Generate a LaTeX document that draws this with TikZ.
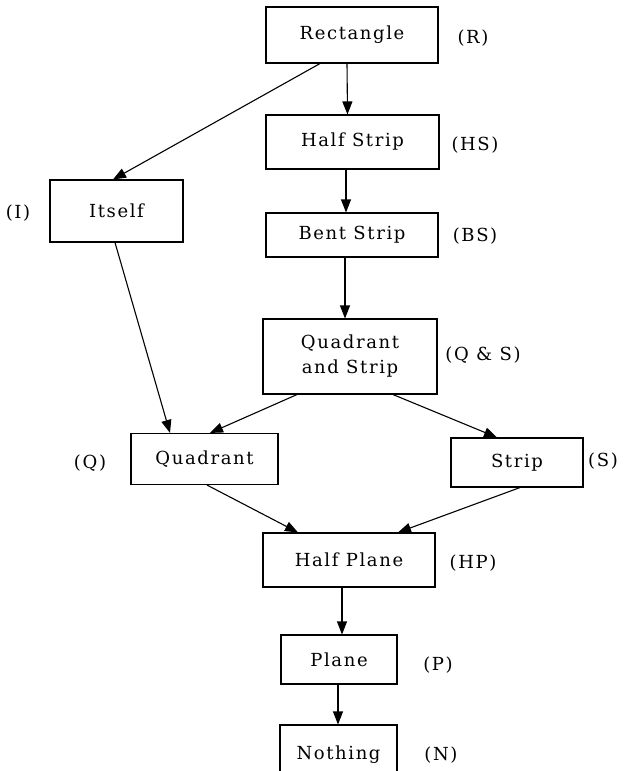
\documentclass[tikz,border=0pt]{standalone}
\usepackage{fontspec}
\setmainfont{DejaVu Serif}[LetterSpace=9]
\usetikzlibrary{arrows.meta}
\begin{document}
\begin{tikzpicture}[x=1pt,y=-1pt,
  box/.style={draw,line width=1.1pt,inner sep=0pt,align=center,font=\fontsize{18}{22}\selectfont},
  lbl/.style={inner sep=0pt,font=\fontsize{18}{22}\selectfont},
  conn/.style={line width=1.1pt,-{Triangle[length=13pt,width=10pt]}},
  plain/.style={line width=1.1pt}]
\clip (0,0) rectangle (629,771);
\fill[white] (0,0) rectangle (629,771);
% boxes
\node[box,minimum width=172pt,minimum height=56pt] (R) at (352,35) {Rectangle};
\node[box,minimum width=173pt,minimum height=54pt] (HS) at (352.5,142) {Half Strip};
\node[box,minimum width=172pt,minimum height=44pt] (BS) at (352,235) {Bent Strip};
\node[box,minimum width=174pt,minimum height=75pt,font=\fontsize{18}{25}\selectfont] (QS) at (350,356.5) {Quadrant\\and Strip};
\node[box,minimum width=133pt,minimum height=62pt] (I) at (116.5,211) {Itself};
\node[box,minimum width=147pt,minimum height=51pt] (Q) at (204.5,459) {Quadrant};
\node[box,minimum width=132pt,minimum height=49pt] (S) at (517,462.5) {Strip};
\node[box,minimum width=172pt,minimum height=54pt] (HP) at (349,560) {Half Plane};
\node[box,minimum width=116pt,minimum height=49pt] (P) at (339,659.5) {Plane};
\node[box,minimum width=117pt,minimum height=60pt] (N) at (338.5,755) {Nothing};
% labels
\node[lbl] (lR) at (473,38) {(R)};
\node[lbl] (lHS) at (475,145) {(HS)};
\node[lbl] (lBS) at (475,236) {(BS)};
\node[lbl] (lQS) at (483,355) {(Q \& S)};
\node[lbl] (lI) at (18,213) {(I)};
\node[lbl] (lQ) at (90,463) {(Q)};
\node[lbl] (lS) at (603,461) {(S)};
\node[lbl] (lHP) at (473,563) {(HP)};
\node[lbl] (lP) at (438,665) {(P)};
\node[lbl] (lN) at (441,755) {(N)};
% connectors
\draw[conn] ([xshift=-5pt]R.south) -- ([xshift=-5pt]HS.north);
\draw[conn] ([xshift=-32pt]R.south) -- ([xshift=-3.5pt]I.north);
\draw[conn] ([xshift=-6.5pt]HS.south) -- ([xshift=-6pt]BS.north);
\draw[conn] ([xshift=-7pt]BS.south) -- ([xshift=-5pt]QS.north);
\draw[conn] ([xshift=-1.5pt]I.south) -- ([xshift=-34.5pt]Q.north);
\draw[conn] ([xshift=-53pt]QS.south) -- ([xshift=5.5pt]Q.north);
\draw[conn] ([xshift=43pt]QS.south) -- ([xshift=-20pt]S.north);
\draw[conn] ([xshift=2.5pt]Q.south) -- ([xshift=-51pt]HP.north);
\draw[conn] ([xshift=3pt]S.south) -- ([xshift=49pt]HP.north);
\draw[conn] ([xshift=-7pt]HP.south) -- ([xshift=3pt]P.north);
\draw[conn] ([xshift=-1pt]P.south) -- ([xshift=-0.5pt]N.north);
\end{tikzpicture}
\end{document}
